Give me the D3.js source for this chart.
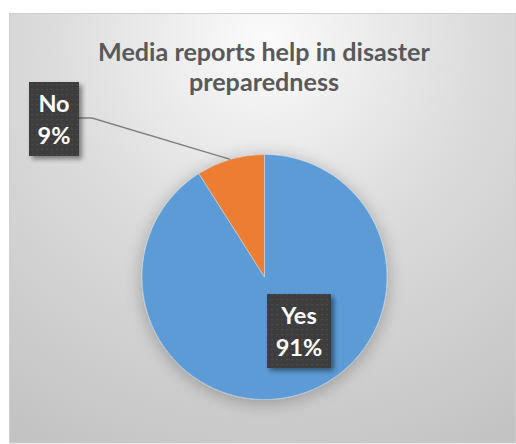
<!DOCTYPE html>
<html>
<head>
<meta charset="utf-8">
<script src="https://cdn.jsdelivr.net/npm/d3@7/dist/d3.min.js"></script>
<style>
  html, body { margin: 0; padding: 0; background: #ffffff; }
  svg { display: block; }
  text { font-family: Lato, "Open Sans", sans-serif; font-weight: bold; }
</style>
</head>
<body>
<svg id="chart" width="516" height="444"></svg>
<script>
// Survey answers and their shares (percent)
const categories = ["Yes", "No"];
const values = [91, 9];
const colors = ["#5B9BD5", "#ED7D31"];
const titleLines = ["Media reports help in disaster", "preparedness"];

const svg = d3.select("#chart");
const W = 516, H = 444;
const defs = svg.append("defs");

// Chart-area background: soft radial grey fill
const bg = defs.append("radialGradient")
  .attr("id", "bgGrad")
  .attr("gradientUnits", "userSpaceOnUse")
  .attr("cx", 265).attr("cy", 40).attr("r", 470);
bg.append("stop").attr("offset", 0).attr("stop-color", "#fbfbfb");
bg.append("stop").attr("offset", 0.45).attr("stop-color", "#dcdcdc");
bg.append("stop").attr("offset", 1).attr("stop-color", "#c2c2c2");

// Dotted dark fill for the data-label boxes
const pat = defs.append("pattern")
  .attr("id", "dots").attr("patternUnits", "userSpaceOnUse")
  .attr("width", 5).attr("height", 5);
pat.append("rect").attr("width", 5).attr("height", 5).attr("fill", "#3d3d3d");
pat.append("rect").attr("x", 2).attr("y", 2).attr("width", 1.2).attr("height", 1.2).attr("fill", "#555555");

// Soft halo around the pie
const halo = defs.append("filter").attr("id", "halo")
  .attr("x", "-30%").attr("y", "-30%").attr("width", "160%").attr("height", "160%");
halo.append("feGaussianBlur").attr("in", "SourceAlpha").attr("stdDeviation", 9).attr("result", "b");
halo.append("feOffset").attr("in", "b").attr("dx", 0).attr("dy", 3).attr("result", "o");
halo.append("feComponentTransfer").attr("in", "o").attr("result", "s")
  .append("feFuncA").attr("type", "linear").attr("slope", 0.28);
const hm = halo.append("feMerge");
hm.append("feMergeNode").attr("in", "s");
hm.append("feMergeNode").attr("in", "SourceGraphic");

// Drop shadow for the label boxes
const sh = defs.append("filter").attr("id", "boxShadow")
  .attr("x", "-30%").attr("y", "-30%").attr("width", "170%").attr("height", "170%");
sh.append("feGaussianBlur").attr("in", "SourceAlpha").attr("stdDeviation", 2.5).attr("result", "b");
sh.append("feOffset").attr("in", "b").attr("dx", 3).attr("dy", 3).attr("result", "o");
sh.append("feComponentTransfer").attr("in", "o").attr("result", "s")
  .append("feFuncA").attr("type", "linear").attr("slope", 0.45);
const sm = sh.append("feMerge");
sm.append("feMergeNode").attr("in", "s");
sm.append("feMergeNode").attr("in", "SourceGraphic");

// Chart frame
svg.append("rect")
  .attr("x", 9.5).attr("y", 13.5).attr("width", W - 10).attr("height", H - 14.5)
  .attr("fill", "url(#bgGrad)").attr("stroke", "#cfcfcf").attr("stroke-width", 1);

// Title
const title = svg.append("text")
  .attr("text-anchor", "middle")
  .attr("fill", "#595959")
  .attr("font-size", 22);
titleLines.forEach((t, i) => {
  title.append("tspan").attr("x", 264).attr("y", 61 + i * 29.5).text(t);
});
// keep first title line at its laid-out width
const t0 = title.select("tspan").node();
const tw = t0.getComputedTextLength();
title.attr("font-size", 22 * 332 / tw);

// Pie
const cx = 264.5, cy = 277, R = 122.5;
const pie = d3.pie().sort(null).value(d => d.value);
const arcs = pie(categories.map((c, i) => ({ name: c, value: values[i], color: colors[i] })));
const arc = d3.arc().innerRadius(0).outerRadius(R);

const g = svg.append("g").attr("transform", `translate(${cx},${cy})`);
const slices = g.append("g").attr("filter", "url(#halo)");
slices.selectAll("path")
  .data(arcs)
  .join("path")
  .attr("d", arc)
  .attr("fill", d => d.data.color)
  .attr("stroke", "#c8d8ea")
  .attr("stroke-width", 0.6);

// Label boxes: "Yes" sits inside its slice, "No" is pulled out with a leader line
const total = d3.sum(values);
const labelPos = {
  Yes: { x: 267 - cx, y: 294 - cy, w: 64, h: 74 },
  No:  { x: 29 - cx,  y: 82 - cy,  w: 50, h: 74 }
};

// Leader line for the pulled-out label
arcs.filter(d => d.data.name === "No").forEach(d => {
  const mid = (d.startAngle + d.endAngle) / 2;
  const ex = Math.sin(mid) * R, ey = -Math.cos(mid) * R;
  const p = labelPos.No;
  const sy = p.y + 36;
  g.append("polyline")
    .attr("points", [[p.x + p.w, sy], [p.x + p.w + 13, sy], [ex, ey]].map(q => q.join(",")).join(" "))
    .attr("fill", "none")
    .attr("stroke", "#7f7f7f")
    .attr("stroke-width", 1.5);
});

arcs.forEach(d => {
  const p = labelPos[d.data.name];
  const lg = g.append("g");
  lg.append("rect")
    .attr("x", p.x).attr("y", p.y).attr("width", p.w).attr("height", p.h)
    .attr("fill", "url(#dots)")
    .attr("filter", "url(#boxShadow)");
  const pct = Math.round(d.data.value / total * 100) + "%";
  const txt = lg.append("text")
    .attr("text-anchor", "middle")
    .attr("fill", "#ffffff")
    .attr("font-size", 23.5);
  txt.append("tspan").attr("x", p.x + p.w / 2).attr("y", p.y + 30).text(d.data.name);
  txt.append("tspan").attr("x", p.x + p.w / 2).attr("y", p.y + 62).text(pct);
});
</script>
</body>
</html>
